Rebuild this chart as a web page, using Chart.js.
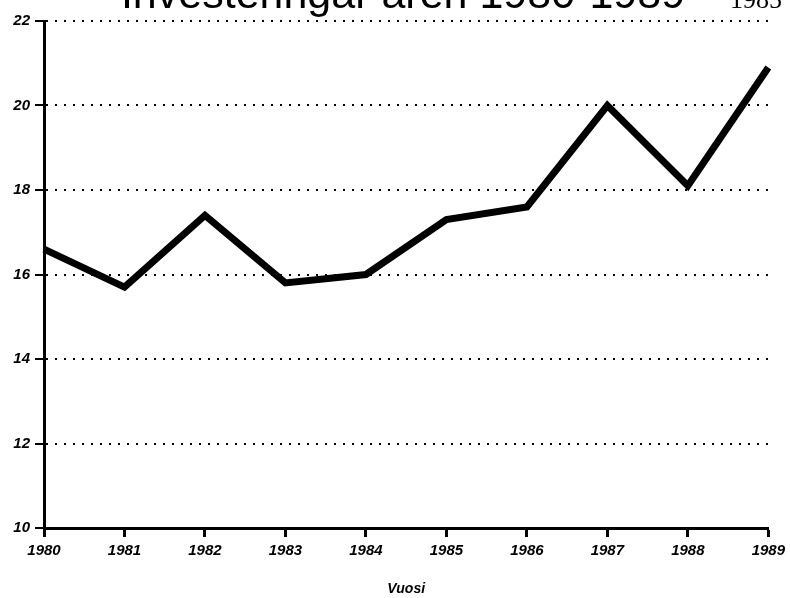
<!DOCTYPE html>
<html>
<head>
<meta charset="utf-8">
<script src="https://cdn.jsdelivr.net/npm/chart.js@4/dist/chart.umd.min.js"></script>
<style>
  html, body { margin: 0; padding: 0; background: #fff; }
  #wrap { width: 790px; height: 598px; position: relative; }
</style>
</head>
<body>
<div id="wrap"><canvas id="chart" width="790" height="598"></canvas></div>
<script>
// data
const years = ['1980', '1981', '1982', '1983', '1984', '1985', '1986', '1987', '1988', '1989'];
const investments = [16.6, 15.7, 17.4, 15.8, 16.0, 17.3, 17.6, 20.0, 18.1, 20.9];
const yTicks = [10, 12, 14, 16, 18, 20, 22];

const titleText = 'Investeringar åren 1980-1989';
const cornerText = '1985';
const xTitle = 'Vuosi';

const tickFont = { family: 'Liberation Sans', size: 15, weight: 'bold', style: 'italic' };

// the title is cut off at the top edge in the reference, so it is drawn by hand
const headerPlugin = {
    id: 'header',
    afterDraw(chart) {
        const ctx = chart.ctx;
        ctx.save();
        ctx.fillStyle = '#000';
        ctx.textBaseline = 'alphabetic';
        ctx.textAlign = 'center';
        ctx.font = '43px "Liberation Sans"';
        ctx.fillText(titleText, 403, 8);
        ctx.textAlign = 'left';
        ctx.font = '26px "Liberation Serif"';
        ctx.fillText(cornerText, 730, 8);
        ctx.restore();
    }
};

new Chart(document.getElementById('chart'), {
    type: 'line',
    data: {
        labels: years,
        datasets: [{
            label: 'Investeringar',
            data: investments,
            borderColor: '#000',
            borderWidth: 7,
            pointRadius: 0,
            tension: 0,
            borderJoinStyle: 'miter',
            borderCapStyle: 'butt',
            fill: false
        }]
    },
    options: {
        responsive: false,
        animation: false,
        layout: {
            padding: { left: 0, right: 19, top: 21, bottom: 0 }
        },
        plugins: {
            legend: { display: false },
            tooltip: { enabled: false }
        },
        scales: {
            x: {
                offset: false,
                afterFit(scale) { scale.height = 70; },
                grid: {
                    drawOnChartArea: false,
                    drawTicks: true,
                    tickLength: 9,
                    tickWidth: 3,
                    tickColor: '#000'
                },
                border: { display: true, color: '#000', width: 3 },
                ticks: {
                    color: '#000',
                    font: tickFont,
                    padding: 5,
                    maxRotation: 0,
                    autoSkip: false
                },
                title: {
                    display: true,
                    text: xTitle,
                    color: '#000',
                    font: { family: 'Liberation Sans', size: 14, weight: 'bold', style: 'italic' },
                    padding: { top: 0, bottom: 0 }
                }
            },
            y: {
                min: 10,
                max: 22,
                afterFit(scale) { scale.width = 44; },
                afterBuildTicks(scale) {
                    scale.ticks = yTicks.map(v => ({ value: v }));
                },
                grid: {
                    color: '#000',
                    lineWidth: 2,
                    drawTicks: true,
                    tickLength: 9,
                    tickWidth: 2,
                    tickColor: '#000',
                    tickBorderDash: []
                },
                border: { display: true, color: '#000', width: 3, dash: [2, 7] },
                ticks: {
                    color: '#000',
                    font: tickFont,
                    padding: 5
                }
            }
        }
    },
    plugins: [headerPlugin]
});
</script>
</body>
</html>
